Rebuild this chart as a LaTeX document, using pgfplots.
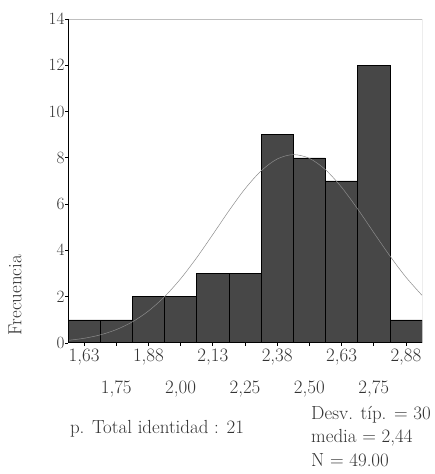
\documentclass[border=0pt]{standalone}
\usepackage{pgfplots}
\pgfplotsset{compat=1.18}
\begin{document}
\begin{tikzpicture}[x=1bp,y=1bp]
\path[use as bounding box] (0,0) rectangle (435,474);
\begin{axis}[
  at={(68bp,131bp)}, anchor=south west,
  scale only axis, width=354bp, height=324bp,
  xmin=1.5625, xmax=2.9375, ymin=0, ymax=14,
  ytick={0,2,...,14},
  xtick={1.625,1.875,2.125,2.375,2.625,2.875},
  xticklabels={{1,63},{1,88},{2,13},{2,38},{2,63},{2,88}},
  extra x ticks={1.75,2.0,2.25,2.5,2.75},
  extra x tick labels={{1,75},{2,00},{2,25},{2,50},{2,75}},
  extra x tick style={tick label style={yshift=-32bp}},
  tick align=outside, major tick length=3bp,
  tick style={black, line width=0.8pt},
  xtick pos=bottom, ytick pos=left,
  axis line style={draw=none},
  tick label style={font=\fontsize{19}{22}\selectfont, text=black!80},
  yticklabel style={xshift=3bp},
  xticklabel style={yshift=1bp},
]
\addplot[ybar interval, fill=black!72, draw=black, line width=0.5pt] coordinates {
(1.5625,1)(1.6875,1)(1.8125,2)(1.9375,2)(2.0625,3)(2.1875,3)(2.3125,9)(2.4375,8)(2.5625,7)(2.6875,12)(2.8125,1)(2.9375,1)};
\addplot[smooth, black!45, line width=0.5pt] coordinates {
(1.5625,0.113)(1.625,0.203)(1.6875,0.350)(1.75,0.578)(1.8125,0.913)(1.875,1.382)(1.9375,2.002)(2.0,2.777)(2.0625,3.688)(2.125,4.690)(2.1875,5.712)(2.25,6.661)(2.3125,7.437)(2.375,7.951)(2.4375,8.14)(2.5,7.979)(2.5625,7.489)(2.625,6.731)(2.6875,5.792)(2.75,4.772)(2.8125,3.766)(2.875,2.845)(2.9375,2.06)};
\draw[black!25, line width=0.6pt] (rel axis cs:0,1) -- (rel axis cs:1,1);
\draw[black!55, line width=0.8pt] (rel axis cs:1,1) -- (rel axis cs:1,0);
\draw[black, line width=1pt] (rel axis cs:0,1) -- (rel axis cs:0,0) -- (rel axis cs:1,0);
\end{axis}
\node[rotate=90, font=\fontsize{19}{22}\selectfont, text=black!80] at (15,179) {Frecuencia};
\node[font=\fontsize{19}{22}\selectfont, text=black!80] at (157,45) {p. Total identidad : 21};
\node[font=\fontsize{19}{23.5}\selectfont, text=black!80, anchor=north west, align=left, inner sep=0pt] at (311,68) {Desv. típ. = 30\\media = 2,44\\N = 49.00};
\end{tikzpicture}
\end{document}
